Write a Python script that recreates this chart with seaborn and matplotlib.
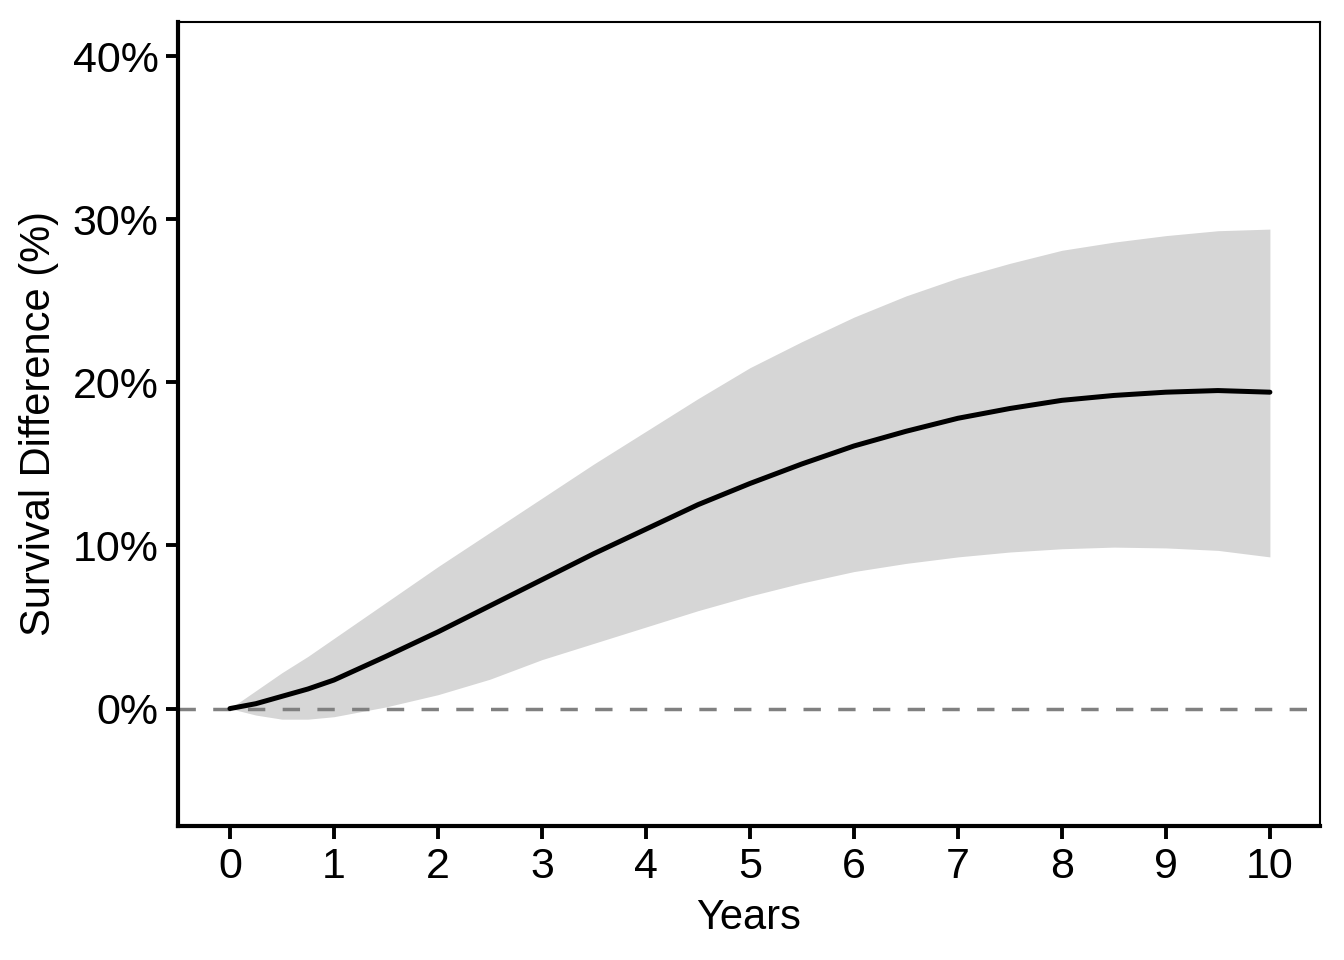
import numpy as np
import pandas as pd
import seaborn as sns
import matplotlib.pyplot as plt
from matplotlib.ticker import PercentFormatter

# values (percent)
years = [0, 0.25, 0.5, 0.75, 1, 1.5, 2, 2.5, 3, 3.5, 4, 4.5, 5,
         5.5, 6, 6.5, 7, 7.5, 8, 8.5, 9, 9.5, 10]
diff = [0, 0.3, 0.75, 1.2, 1.75, 3.2, 4.7, 6.3, 7.9, 9.5, 11.0, 12.5, 13.8,
        15.0, 16.1, 17.0, 17.8, 18.4, 18.9, 19.2, 19.4, 19.5, 19.4]
upper = [0, 1.1, 2.2, 3.2, 4.3, 6.5, 8.7, 10.8, 12.9, 15.0, 17.0, 19.0, 20.9,
         22.5, 24.0, 25.3, 26.4, 27.3, 28.1, 28.6, 29.0, 29.3, 29.4]
lower = [0, -0.4, -0.65, -0.65, -0.5, 0.1, 0.85, 1.8, 3.0, 4.0, 5.0, 6.0, 6.9,
         7.7, 8.4, 8.9, 9.3, 9.6, 9.8, 9.9, 9.85, 9.7, 9.3]
x_ticks = list(range(0, 11))
y_ticks = [0, 10, 20, 30, 40]

df = pd.DataFrame({"Years": years, "diff": diff, "upper": upper, "lower": lower})

sns.set_theme(style="ticks")
plt.rcParams["font.family"] = ["Liberation Sans", "DejaVu Sans"]

fig = plt.figure(figsize=(13.44, 9.6), dpi=100)
ax = fig.add_axes([0.1324, 0.1396, 0.8496, 0.8375])

ax.fill_between(df["Years"], df["lower"], df["upper"], color="#d6d6d6", linewidth=0)
ax.axhline(0, color="#808080", linewidth=2.5, linestyle=(0, (5, 5)))
sns.lineplot(data=df, x="Years", y="diff", color="black", linewidth=3.6, ax=ax)

ax.set_xlim(-0.5, 10.48)
ax.set_ylim(-7.2, 42.1)
ax.set_xticks(x_ticks)
ax.set_yticks(y_ticks)
ax.yaxis.set_major_formatter(PercentFormatter(decimals=0))

ax.set_xlabel("Years", fontsize=30, labelpad=8, color="black")
ax.set_ylabel("Survival Difference (%)", fontsize=30, labelpad=10, color="black")
ax.tick_params(axis="both", labelsize=31, width=2.8, length=9, color="black",
               labelcolor="black")
ax.tick_params(axis="x", pad=6)
ax.tick_params(axis="y", pad=5)

for side in ["left", "bottom"]:
    ax.spines[side].set_linewidth(3.0)
    ax.spines[side].set_color("black")
for side in ["top", "right"]:
    ax.spines[side].set_visible(True)
    ax.spines[side].set_linewidth(1.5)
    ax.spines[side].set_color("black")

fig.savefig("out.png", dpi=100)
